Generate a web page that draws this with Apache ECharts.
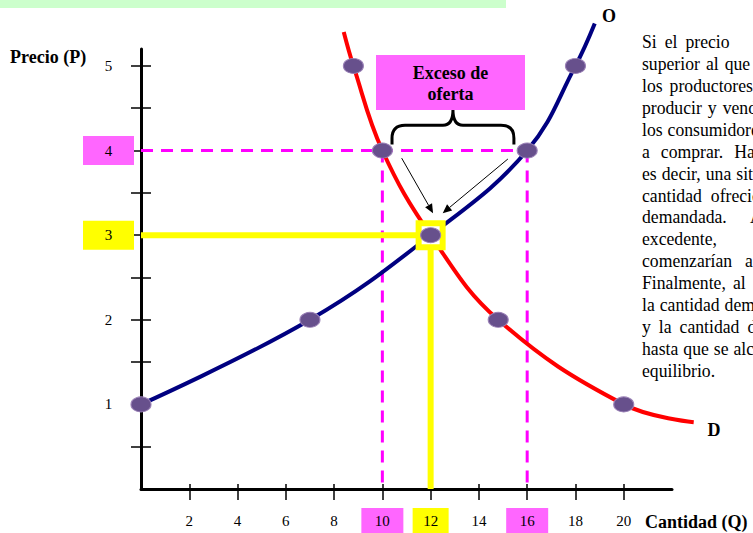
<!DOCTYPE html>
<html><head><meta charset="utf-8">
<script src="https://cdn.jsdelivr.net/npm/echarts@6/dist/echarts.min.js"></script>
<style>html,body{margin:0;padding:0;background:#fff;overflow:hidden}#c{width:753px;height:533px}</style>
</head><body><div id="c"></div>
<script>
const SERIF = "'Liberation Serif','Times New Roman',serif";
// data
const supplyCurve = [[0,1],[7,2],[12,3],[16,4],[18,5],[18.8,5.5]];
const demandCurve = [[8.4,5.4],[8.8,5],[10,4],[12,3],[14.8,2],[20,1],[22.9,0.79]];
const supplyPoints = [[0,1],[7,2],[16,4],[18,5]];
const demandPoints = [[8.8,5],[10,4],[14.8,2],[20,1]];
const equilibrium = [12,3];
const surplusPrice = 4;
const qDemanded = 10;
const qSupplied = 16;
const xTicks = [2,4,6,8,10,12,14,16,18,20];
const yTicks = [0.5,1,1.5,2,2.5,3,3.5,4,4.5,5];
const yLabels = [1,2,3,4,5];
const arrowStarts = [[10.8,3.91],[15.2,3.9]];
const arrowEnds = [[12.1,3.26],[12.5,3.26]];
const braceSpan = [10.4,15.45,4.07,4.30,4.48];
const paraWords = [
 ['Si','el','precio'],
 ['superior','al','que'],
 ['los','productores'],
 ['producir','y','vender,'],
 ['los','consumidores'],
 ['a','comprar.','Hay'],
 ['es','decir,','una','situación'],
 ['cantidad','ofrecida'],
 ['demandada.','Al'],
 ['excedente,'],
 ['comenzarían','a'],
 ['Finalmente,','al'],
 ['la','cantidad','demandada'],
 ['y','la','cantidad','de'],
 ['hasta','que','se','alcance'],
 ['equilibrio.']
];
// layout of the justified paragraph (word gap per line, forced start of a last word)
const paraGap = [8,6,7,6,5,11,5,9,5,0,10,7,5,8,5,0];
const paraLastX = [null,null,null,null,null,null,null,null,750,null,745,null,null,null,null,null];

const chart = echarts.init(document.getElementById('c'), null, {renderer:'svg'});

const xFmt = v => (v===qDemanded||v===qSupplied) ? '{p|'+v+'}' : (v===equilibrium[0] ? '{y|'+v+'}' : '{n|'+v+'}');
const yFmt = v => (v===surplusPrice) ? '{p|'+v+'}' : (v===equilibrium[1] ? '{y|'+v+'}' : '{n|'+v+'}');
const lab = {fontFamily:SERIF, fontSize:15, color:'#000', align:'center', verticalAlign:'middle'};
const BOLD = {fill:'#000', align:'center', textAlign:'center', verticalAlign:'middle', textVerticalAlign:'middle'};

const graphics = [
  {type:'rect', shape:{x:0,y:0,width:506,height:8}, style:{fill:'#ccffcc'}},
  {type:'text', x:10, y:57, style:{text:'Precio (P)', font:'bold 18px '+SERIF, fill:'#000', verticalAlign:'middle', textVerticalAlign:'middle'}},
  {type:'text', x:645, y:522, style:{text:'Cantidad (Q)', font:'bold 18px '+SERIF, fill:'#000', verticalAlign:'middle', textVerticalAlign:'middle'}},
  {type:'text', x:609, y:16, style:Object.assign({text:'O', font:'bold 18px '+SERIF}, BOLD)},
  {type:'text', x:714, y:430, style:Object.assign({text:'D', font:'bold 18px '+SERIF}, BOLD)},
  {type:'rect', shape:{x:376,y:55,width:149,height:55}, style:{fill:'#ff66ff'}},
  {type:'text', x:450.5, y:73, style:Object.assign({text:'Exceso de', font:'bold 18px '+SERIF}, BOLD)},
  {type:'text', x:450.5, y:94, style:Object.assign({text:'oferta', font:'bold 18px '+SERIF}, BOLD)}
];
const mctx = document.createElement('canvas').getContext('2d');
const PFONT = '19px '+SERIF;
mctx.font = PFONT;
const TS = 0.93;
paraWords.forEach((ws,i)=>{
  let x = 642;
  ws.forEach((w,j)=>{
    if (j===ws.length-1 && j>0 && paraLastX[i]!=null) x = paraLastX[i];
    graphics.push({type:'text', x:x, y:42+21.9*i, scaleX:TS,
      style:{text:w, font:PFONT, fill:'#000', verticalAlign:'middle', textVerticalAlign:'middle'}});
    x += mctx.measureText(w).width*TS + paraGap[i];
  });
});

function curveSeries(points, color){
  return {type:'custom', z:3, clip:false, data:points, encode:{x:0, y:1},
    renderItem:(params, api)=>{
      if (params.dataIndex !== 0) return null;
      const pts = points.map(p => api.coord(p));
      return {type:'polyline', shape:{points:pts, smooth:0.4}, style:{stroke:color, lineWidth:4, fill:null}};
    }};
}

const option = {
  animation:false,
  grid:{left:141, right:81, top:49, bottom:44, outerBoundsMode:'none'},
  xAxis:[{
    type:'value', min:0, max:22, position:'bottom',
    axisLine:{show:true, onZero:false, lineStyle:{color:'#000', width:3}},
    axisTick:{show:true, customValues:xTicks, length:11, lineStyle:{color:'#000', width:1.5}},
    axisLabel:{customValues:xTicks, margin:19, formatter:xFmt,
      rich:{n:Object.assign({width:36,height:25},lab), p:Object.assign({width:42,height:25,backgroundColor:'#ff66ff'},lab), y:Object.assign({width:36,height:25,backgroundColor:'#ffff00'},lab)}},
    splitLine:{show:false}
  },{
    type:'value', min:0, max:22, position:'bottom',
    axisLine:{show:false},
    axisTick:{show:true, inside:true, customValues:xTicks, length:5, lineStyle:{color:'#000', width:1.5}},
    axisLabel:{show:false}, splitLine:{show:false}
  }],
  yAxis:[{
    type:'value', min:0, max:5.2, position:'left',
    axisLine:{show:true, onZero:false, lineStyle:{color:'#000', width:3}},
    axisTick:{show:true, customValues:yTicks, length:10, lineStyle:{color:'#000', width:1.5}},
    axisLabel:{customValues:yLabels, margin:7, formatter:yFmt,
      rich:{n:Object.assign({width:51,height:29},lab), p:Object.assign({width:51,height:29,backgroundColor:'#ff66ff'},lab), y:Object.assign({width:51,height:29,backgroundColor:'#ffff00'},lab)}},
    splitLine:{show:false}
  },{
    type:'value', min:0, max:5.2, position:'left',
    axisLine:{show:false},
    axisTick:{show:true, inside:true, customValues:yTicks, length:10, lineStyle:{color:'#000', width:1.5}},
    axisLabel:{show:false}, splitLine:{show:false}
  }],
  graphic:graphics,
  series:[
    {type:'line', z:1, symbol:'none', data:[[0,surplusPrice],[qSupplied,surplusPrice]], lineStyle:{color:'#ff00ff', width:3, type:[12,8]}},
    {type:'line', z:1, symbol:'none', data:[[qDemanded,surplusPrice],[qDemanded,0]], lineStyle:{color:'#ff00ff', width:3, type:[12,8]}},
    {type:'line', z:1, symbol:'none', data:[[qSupplied,surplusPrice],[qSupplied,0]], lineStyle:{color:'#ff00ff', width:3, type:[12,8]}},
    {type:'line', z:2, symbol:'none', data:[[0,equilibrium[1]],equilibrium], lineStyle:{color:'#ffff00', width:6}},
    {type:'line', z:2, symbol:'none', data:[equilibrium,[equilibrium[0],0]], lineStyle:{color:'#ffff00', width:6}},
    curveSeries(supplyCurve, '#000080'),
    curveSeries(demandCurve, '#ff0000'),
    {type:'scatter', z:4, symbol:'rect', symbolSize:24, data:[equilibrium], itemStyle:{color:'#ffffff', borderColor:'#ffff00', borderWidth:6, opacity:1}},
    {type:'scatter', z:5, symbol:'circle', symbolSize:[20,15], data:supplyPoints.concat(demandPoints,[equilibrium]),
      itemStyle:{color:'#67508c', borderColor:'#9a80b6', borderWidth:1, opacity:1}},
    {type:'custom', z:6, data:arrowStarts.map((s,i)=>[s[0],s[1],arrowEnds[i][0],arrowEnds[i][1]]), encode:{x:[0,2], y:[1,3]},
      renderItem:(params, api)=>{
        const a = api.coord([api.value(0), api.value(1)]), b = api.coord([api.value(2), api.value(3)]);
        const ang = Math.atan2(b[1]-a[1], b[0]-a[0]); const L=9, W=4;
        const bx=b[0]-L*Math.cos(ang), by=b[1]-L*Math.sin(ang);
        const nx=-Math.sin(ang)*W, ny=Math.cos(ang)*W;
        return {type:'group', children:[
          {type:'line', shape:{x1:a[0],y1:a[1],x2:bx,y2:by}, style:{stroke:'#000', lineWidth:1}},
          {type:'polygon', shape:{points:[[b[0],b[1]],[bx+nx,by+ny],[bx-nx,by-ny]]}, style:{fill:'#000'}}
        ]};
      }},
    {type:'custom', z:6, data:[braceSpan], encode:{x:[0,1], y:[2,3,4]},
      renderItem:(params, api)=>{
        const pL = api.coord([api.value(0), api.value(2)]);
        const pR = api.coord([api.value(1), api.value(2)]);
        const ym = api.coord([0, api.value(3)])[1];
        const yt = api.coord([0, api.value(4)])[1];
        const xc = (pL[0]+pR[0])/2, r=13, rc=10;
        const d = 'M'+pL[0]+','+pL[1]+' L'+pL[0]+','+(ym+r)+' Q'+pL[0]+','+ym+' '+(pL[0]+r)+','+ym+
          ' L'+(xc-rc)+','+ym+' Q'+xc+','+ym+' '+xc+','+yt+' Q'+xc+','+ym+' '+(xc+rc)+','+ym+
          ' L'+(pR[0]-r)+','+ym+' Q'+pR[0]+','+ym+' '+pR[0]+','+(ym+r)+' L'+pR[0]+','+pR[1];
        return {type:'path', shape:{pathData:d}, style:{fill:'none', stroke:'#000', lineWidth:3}};
      }}
  ]
};
chart.setOption(option);
</script></body></html>
